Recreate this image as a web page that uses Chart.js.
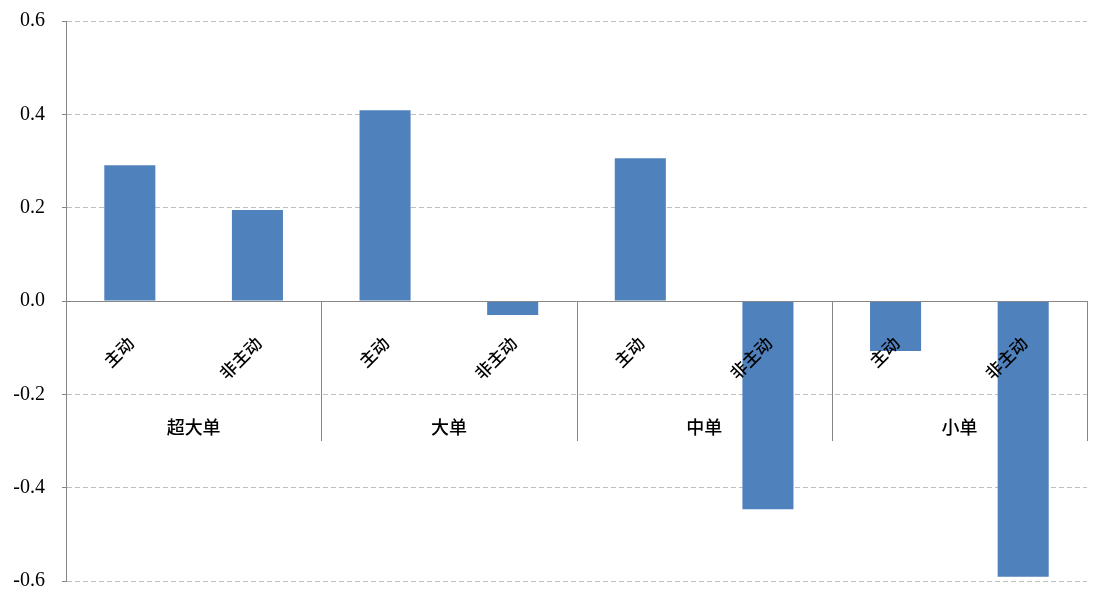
<!DOCTYPE html>
<html>
<head>
<meta charset="utf-8">
<script src="https://cdn.jsdelivr.net/npm/chart.js@4"></script>
<style>
  body { margin: 0; background: #fff; }
</style>
</head>
<body>
<canvas id="chart" width="1101" height="594"></canvas>
<script>
// groups and sub-categories (two bars per group)
const groups = ['超大单', '大单', '中单', '小单'];
const types = ['主动', '非主动'];
const categories = ['主动', '非主动', '主动', '非主动', '主动', '非主动', '主动', '非主动'];
const values = [0.291, 0.195, 0.409, -0.030, 0.306, -0.446, -0.107, -0.591];
const yTicks = [-0.6, -0.4, -0.2, 0.0, 0.2, 0.4, 0.6];

const cjkFont = "'Noto Sans CJK SC', sans-serif";

// zero line, group separators and two-level category labels
const categoryAxisPlugin = {
  id: 'categoryAxis',
  afterDatasetsDraw(chart) {
    const { ctx, chartArea, scales: { x, y } } = chart;
    const y0 = y.getPixelForValue(0);
    const step = x.getPixelForValue(1) - x.getPixelForValue(0);

    ctx.save();
    ctx.strokeStyle = '#868686';
    ctx.lineWidth = 1;
    ctx.setLineDash([]);

    ctx.beginPath();
    ctx.moveTo(chartArea.left, Math.round(y0) + 0.5);
    ctx.lineTo(chartArea.right, Math.round(y0) + 0.5);
    ctx.stroke();

    // separators after each group
    groups.forEach((g, i) => {
      const xr = x.getPixelForValue(i * types.length + types.length - 1) + step / 2;
      ctx.beginPath();
      ctx.moveTo(Math.round(xr) + 0.5, y0);
      ctx.lineTo(Math.round(xr) + 0.5, y0 + 140);
      ctx.stroke();
    });

    // rotated sub-category labels
    ctx.fillStyle = '#000';
    ctx.font = `500 17px ${cjkFont}`;
    ctx.textAlign = 'right';
    ctx.textBaseline = 'middle';
    categories.forEach((c, i) => {
      const cx = x.getPixelForValue(i);
      ctx.save();
      ctx.translate(cx + 1, y0 + 39);
      ctx.rotate(-Math.PI / 4);
      ctx.fillText(c, 0, 0);
      ctx.restore();
    });

    // group labels
    ctx.textAlign = 'center';
    ctx.font = `500 18px ${cjkFont}`;
    groups.forEach((g, i) => {
      const a = x.getPixelForValue(i * types.length);
      const b = x.getPixelForValue(i * types.length + types.length - 1);
      ctx.fillText(g, (a + b) / 2, y0 + 126);
    });
    ctx.restore();
  }
};

new Chart(document.getElementById('chart'), {
  type: 'bar',
  data: {
    labels: categories,
    datasets: [{
      data: values,
      backgroundColor: '#4F81BD',
      borderWidth: 0,
      categoryPercentage: 1.0,
      barPercentage: 0.4
    }]
  },
  options: {
    responsive: false,
    animation: false,
    layout: { padding: { top: 21, right: 14, bottom: 13, left: 0 } },
    plugins: {
      legend: { display: false },
      tooltip: { enabled: false }
    },
    scales: {
      x: {
        display: false
      },
      y: {
        min: -0.6,
        max: 0.6,
        afterFit(scale) {
          scale.width = 66;
          scale.paddingTop = 0;
          scale.paddingBottom = 0;
        },
        afterBuildTicks(scale) { scale.ticks = yTicks.map(v => ({ value: v })); },
        ticks: {
          padding: 17,
          color: '#000',
          font: { family: "'Liberation Serif', serif", size: 20 },
          callback: (v) => (Math.abs(v) < 1e-9 ? 0 : v).toFixed(1)
        },
        grid: {
          color: '#BEBEBE',
          tickColor: '#868686',
          tickLength: 4,
          tickBorderDash: []
        },
        border: {
          display: true,
          color: '#868686',
          dash: [5, 3]
        }
      }
    }
  },
  plugins: [categoryAxisPlugin]
});
</script>
</body>
</html>
